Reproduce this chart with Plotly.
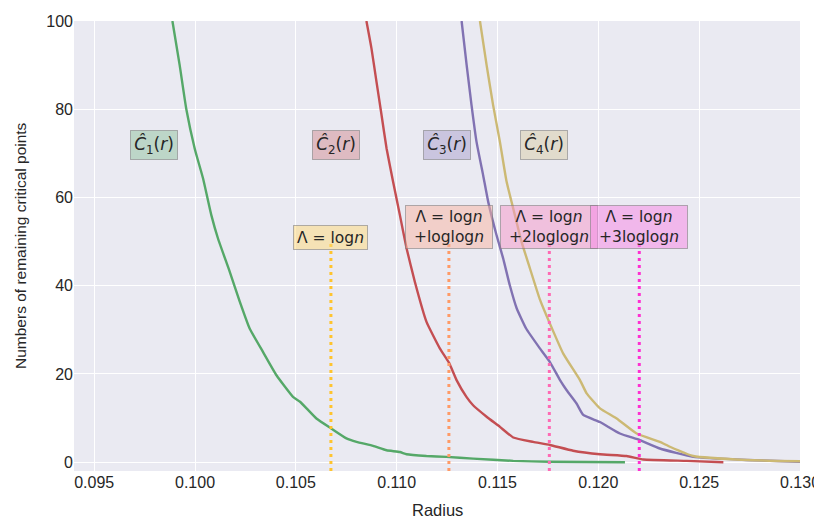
import plotly.graph_objects as go

# ---- data ----
c1_r = [0.09888, 0.09924, 0.09957, 0.09999, 0.10040, 0.10081, 0.10114, 0.10172, 0.10222, 0.10271,
        0.10337, 0.10404, 0.10486, 0.10521, 0.10602, 0.10677, 0.10751, 0.10801, 0.10883, 0.10950,
        0.11016, 0.11049, 0.11148, 0.11247, 0.11379, 0.11578, 0.11760, 0.12132]
c1_n = [100, 90, 80, 71, 64.3, 56, 50.7, 43.2, 36.4, 30.3,
        25, 19.7, 14.8, 13.7, 9.9, 7.6, 5.4, 4.6, 3.7, 2.7,
        2.3, 1.8, 1.4, 1.2, 0.8, 0.3, 0.1, 0.0]

c2_r = [0.10850, 0.10875, 0.10900, 0.10925, 0.10950, 0.10982, 0.11016, 0.11049, 0.11090, 0.11148,
        0.11214, 0.11260, 0.11297, 0.11346, 0.11379, 0.11446, 0.11512, 0.11578, 0.11677, 0.11760,
        0.11875, 0.12008, 0.12140, 0.12223, 0.12438, 0.12620]
c2_n = [100, 93.8, 86.2, 78.7, 71.1, 63.6, 56, 48.5, 40.9, 31.8,
        25.8, 22.5, 18.6, 14.8, 12.9, 10.3, 8.0, 5.6, 4.6, 3.9,
        2.6, 1.8, 1.4, 0.6, 0.3, 0.0]

c3_r = [0.11322, 0.11347, 0.11371, 0.11396, 0.11429, 0.11454, 0.11495, 0.11528, 0.11561, 0.11595,
        0.11642, 0.11710, 0.11760, 0.11810, 0.11843, 0.11892, 0.11925, 0.12008, 0.12107, 0.12206,
        0.12305, 0.12471, 0.12736, 0.13000]
c3_n = [100, 90, 81, 72.6, 65, 59, 51.5, 46.2, 40.1, 34.9,
        30.3, 25.8, 22.7, 18.6, 16.3, 13.3, 10.7, 9.1, 6.5, 5.0,
        3.1, 1.2, 0.5, 0.1]

c4_r = [0.11413, 0.11446, 0.11478, 0.11512, 0.11545, 0.11578, 0.11619, 0.11661, 0.11710, 0.11760,
        0.11826, 0.11909, 0.11942, 0.12008, 0.12091, 0.12190, 0.12305, 0.12355, 0.12471, 0.12736,
        0.13000]
c4_n = [100, 90, 81, 72.6, 63.6, 57.5, 50, 43.9, 36.9, 31.4,
        24.6, 18.6, 15.6, 12.2, 9.9, 6.5, 4.6, 3.5, 1.4, 0.5,
        0.2]

curve_names = ["C1", "C2", "C3", "C4"]
curve_labels = ["<i>Ĉ</i><sub>1</sub>(<i>r</i>)", "<i>Ĉ</i><sub>2</sub>(<i>r</i>)",
                "<i>Ĉ</i><sub>3</sub>(<i>r</i>)", "<i>Ĉ</i><sub>4</sub>(<i>r</i>)"]
curve_label_x = [0.09799, 0.10698, 0.11249, 0.11731]
curve_label_y = [71.8, 71.8, 71.8, 71.8]

lambda_r = [0.10674, 0.11259, 0.11757, 0.12203]
lambda_labels = ["Λ = log<i>n</i>",
                 "Λ = log<i>n</i><br>+loglog<i>n</i>",
                 "Λ = log<i>n</i><br>+2loglog<i>n</i>",
                 "Λ = log<i>n</i><br>+3loglog<i>n</i>"]
lambda_label_y = [51.0, 53.2, 53.2, 53.2]
lambda_line_top = 50

x_ticks = [0.095, 0.100, 0.105, 0.110, 0.115, 0.120, 0.125, 0.130]
y_ticks = [0, 20, 40, 60, 80, 100]
x_title = "Radius"
y_title = "Numbers of remaining critical points"

# ---- styles ----
curve_colors = ["#55A868", "#C44E52", "#8172B2", "#CCB974"]
curve_box = ["rgba(85,168,104,0.30)", "rgba(196,78,82,0.30)",
             "rgba(129,114,178,0.30)", "rgba(204,185,116,0.30)"]
lambda_colors = ["#FFC42E", "#FF9A66", "#FF69B4", "#FF2FD2"]
lambda_box = ["rgba(255,218,120,0.50)", "rgba(250,180,160,0.50)",
              "rgba(245,150,200,0.50)", "rgba(245,140,230,0.55)"]
lambda_box_w = [69, 82, 92, 92]
lambda_box_h = [19, 38, 38, 38]

fig = go.Figure()
series = [(c1_r, c1_n), (c2_r, c2_n), (c3_r, c3_n), (c4_r, c4_n)]
for (xs, ys), name, col in zip(series, curve_names, curve_colors):
    fig.add_trace(go.Scatter(x=xs, y=ys, mode="lines", name=name,
                             line=dict(color=col, width=2.4, shape="spline", smoothing=0.4),
                             showlegend=False))

for xv, col in zip(lambda_r, lambda_colors):
    fig.add_trace(go.Scatter(x=[xv, xv], y=[-2, lambda_line_top], mode="lines",
                             line=dict(color=col, width=3, dash="3px,4px"),
                             showlegend=False))

for txt, xv, yv, bg in zip(curve_labels, curve_label_x, curve_label_y, curve_box):
    fig.add_annotation(x=xv, y=yv, xref="x", yref="y", text=txt, showarrow=False,
                       font=dict(family="DejaVu Sans", size=17, color="#262626"),
                       bgcolor=bg, bordercolor="rgba(120,120,120,0.55)", borderwidth=1,
                       borderpad=2, width=42, height=24)

for txt, xv, yv, bg, w, h in zip(lambda_labels, lambda_r, lambda_label_y, lambda_box,
                                 lambda_box_w, lambda_box_h):
    fig.add_annotation(x=xv, y=yv, xref="x", yref="y", text=txt, showarrow=False,
                       font=dict(family="DejaVu Sans", size=15.5, color="#262626"),
                       bgcolor=bg, bordercolor="rgba(120,120,120,0.55)", borderwidth=1,
                       borderpad=2, align="center", width=w, height=h)

title_font = dict(family="Liberation Sans, Arial", size=16.5, color="#262626")
# axis titles placed as text relative to the plotting area
fig.add_annotation(text=x_title, xref="paper", yref="paper", x=0.5, y=0,
                   yanchor="middle", yshift=-39, showarrow=False, font=title_font)
fig.add_annotation(text=y_title, xref="paper", yref="paper", x=0, y=0.5,
                   xanchor="center", xshift=-54, textangle=-90, showarrow=False,
                   font=dict(family="Liberation Sans, Arial", size=15.5, color="#262626"))

axis_font = dict(family="Liberation Sans, Arial", size=16, color="#262626")
# the page body has an 8px margin, so the figure is sized/margined to compensate
fig.update_layout(
    width=814, height=510,
    margin=dict(l=66, r=22, t=13, b=47),
    paper_bgcolor="white", plot_bgcolor="#EAEAF2",
    xaxis=dict(range=[0.094, 0.130], tickvals=x_ticks,
               ticktext=[f"{v:.3f}" for v in x_ticks], automargin=False,
               showgrid=True, gridcolor="white", gridwidth=1.3, zeroline=False,
               showline=False, ticks="", tickfont=axis_font),
    yaxis=dict(range=[-2, 100], tickvals=y_ticks, automargin=False,
               showgrid=True, gridcolor="white", gridwidth=1.3, zeroline=False,
               showline=False, ticks="", tickfont=axis_font),
)

fig.write_html("out.html")
